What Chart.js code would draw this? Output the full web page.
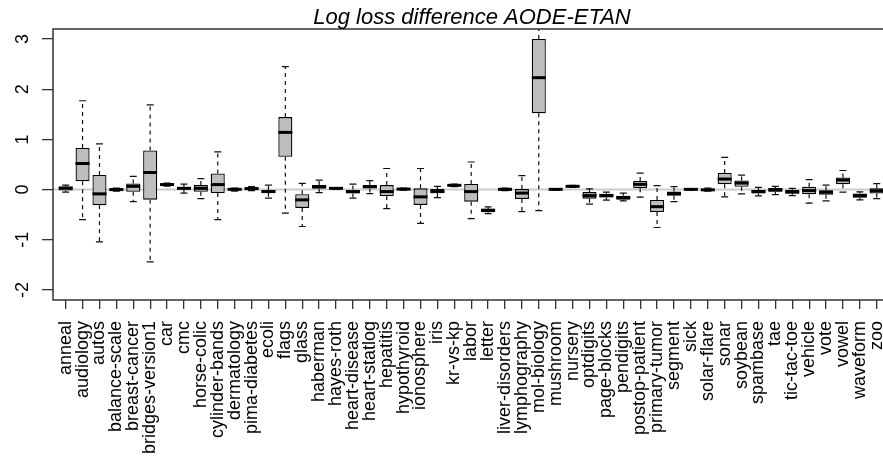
<!DOCTYPE html>
<html>
<head>
<meta charset="utf-8">
<script src="https://cdn.jsdelivr.net/npm/chart.js@4.4.1/dist/chart.umd.min.js"></script>
<style>
  html, body { margin: 0; padding: 0; background: #fff; overflow: hidden; }
  #wrap { width: 883px; height: 460px; position: relative; }
</style>
</head>
<body>
<div id="wrap"><canvas id="myChart"></canvas></div>
<script>
// data sets (x axis)
const categories = ['anneal', 'audiology', 'autos', 'balance-scale', 'breast-cancer', 'bridges-version1',
  'car', 'cmc', 'horse-colic', 'cylinder-bands', 'dermatology', 'pima-diabetes', 'ecoli', 'flags',
  'glass', 'haberman', 'hayes-roth', 'heart-disease', 'heart-statlog', 'hepatitis', 'hypothyroid',
  'ionosphere', 'iris', 'kr-vs-kp', 'labor', 'letter', 'liver-disorders', 'lymphography',
  'mol-biology', 'mushroom', 'nursery', 'optdigits', 'page-blocks', 'pendigits', 'postop-patient',
  'primary-tumor', 'segment', 'sick', 'solar-flare', 'sonar', 'soybean', 'spambase', 'tae',
  'tic-tac-toe', 'vehicle', 'vote', 'vowel', 'waveform', 'zoo'];

// box statistics
const whiskerLow = [-0.05, -0.60, -1.04, -0.03, -0.24, -1.44, 0.07, -0.07, -0.18, -0.60, -0.03, -0.02, -0.17, -0.47,
  -0.735, -0.06, 0.01, -0.17, -0.08, -0.38, -0.01, -0.675, -0.16, 0.06, -0.58, -0.48, -0.02, -0.44,
  -0.42, -0.01, 0.045, -0.29, -0.21, -0.225, -0.15, -0.755, -0.24, -0.01, -0.03, -0.145, -0.085, -0.125,
  -0.10, -0.12, -0.27, -0.225, -0.05, -0.205, -0.18];
const q1 = [-0.02, 0.165, -0.31, -0.02, -0.045, -0.20, 0.08, 0.0, -0.045, -0.07, -0.015, 0.0, -0.065, 0.655,
  -0.365, 0.015, 0.015, -0.08, 0.02, -0.13, 0.0, -0.305, -0.07, 0.07, -0.24, -0.45, -0.01, -0.185,
  1.52, -0.005, 0.05, -0.18, -0.16, -0.20, 0.025, -0.445, -0.125, -0.005, -0.02, 0.105, 0.055, -0.08,
  -0.045, -0.08, -0.093, -0.105, 0.105, -0.165, -0.08];
const medians = [0.03, 0.52, -0.085, 0.0, 0.065, 0.34, 0.10, 0.025, 0.025, 0.10, 0.005, 0.02, -0.04, 1.14,
  -0.205, 0.06, 0.025, -0.04, 0.06, -0.04, 0.01, -0.145, -0.04, 0.085, -0.04, -0.41, 0.005, -0.07,
  2.23, 0.005, 0.065, -0.12, -0.12, -0.16, 0.105, -0.34, -0.08, 0.005, -0.005, 0.21, 0.13, -0.04,
  -0.007, -0.05, -0.02, -0.053, 0.19, -0.12, -0.025];
const q3 = [0.06, 0.83, 0.29, 0.02, 0.12, 0.78, 0.12, 0.05, 0.09, 0.32, 0.02, 0.04, -0.01, 1.445,
  -0.093, 0.09, 0.035, 0.0, 0.09, 0.09, 0.02, 0.025, 0.01, 0.10, 0.11, -0.385, 0.02, 0.01,
  3.0, 0.015, 0.08, -0.05, -0.085, -0.125, 0.17, -0.205, -0.04, 0.015, 0.015, 0.33, 0.18, -0.01,
  0.03, -0.01, 0.055, -0.013, 0.24, -0.08, 0.025];
const whiskerHigh = [0.09, 1.77, 0.91, 0.03, 0.265, 1.69, 0.13, 0.11, 0.22, 0.75, 0.03, 0.06, 0.09, 2.45,
  0.125, 0.19, 0.04, 0.11, 0.18, 0.42, 0.03, 0.42, 0.065, 0.11, 0.55, -0.345, 0.03, 0.28,
  3.6, 0.02, 0.085, 0.015, -0.05, -0.07, 0.33, 0.08, 0.06, 0.02, 0.03, 0.64, 0.29, 0.045,
  0.065, 0.023, 0.2, 0.09, 0.38, -0.045, 0.12];

const yTicks = [-2, -1, 0, 1, 2, 3];

const FONT = "'Liberation Sans', Arial, Helvetica, sans-serif";

// whiskers, medians, zero line, frame, title and y labels
const boxplotExtras = {
  id: 'boxplotExtras',
  beforeDatasetsDraw(chart) {
    const ctx = chart.ctx;
    const area = chart.chartArea;
    const x = chart.scales.x;
    const y = chart.scales.y;
    const bars = chart.getDatasetMeta(0).data;

    ctx.save();
    ctx.beginPath();
    ctx.rect(area.left, area.top, area.right - area.left, area.bottom - area.top);
    ctx.clip();

    // grey line at zero
    ctx.strokeStyle = '#cccccc';
    ctx.lineWidth = 2;
    ctx.beginPath();
    ctx.moveTo(area.left, y.getPixelForValue(0));
    ctx.lineTo(area.right, y.getPixelForValue(0));
    ctx.stroke();

    // whiskers
    ctx.strokeStyle = '#111';
    ctx.lineWidth = 1.2;
    categories.forEach((c, i) => {
      const px = x.getPixelForValue(i);
      const half = bars[i] ? bars[i].width / 4 : 3.5;
      ctx.setLineDash([4, 4]);
      ctx.beginPath();
      ctx.moveTo(px, y.getPixelForValue(q3[i]));
      ctx.lineTo(px, y.getPixelForValue(whiskerHigh[i]));
      ctx.moveTo(px, y.getPixelForValue(q1[i]));
      ctx.lineTo(px, y.getPixelForValue(whiskerLow[i]));
      ctx.stroke();
      ctx.setLineDash([]);
      ctx.beginPath();
      ctx.moveTo(px - half, y.getPixelForValue(whiskerHigh[i]));
      ctx.lineTo(px + half, y.getPixelForValue(whiskerHigh[i]));
      ctx.moveTo(px - half, y.getPixelForValue(whiskerLow[i]));
      ctx.lineTo(px + half, y.getPixelForValue(whiskerLow[i]));
      ctx.stroke();
    });
    ctx.restore();
  },
  afterDatasetsDraw(chart) {
    const ctx = chart.ctx;
    const area = chart.chartArea;
    const x = chart.scales.x;
    const y = chart.scales.y;
    const bars = chart.getDatasetMeta(0).data;

    ctx.save();
    ctx.beginPath();
    ctx.rect(area.left, area.top, area.right - area.left, area.bottom - area.top);
    ctx.clip();
    ctx.strokeStyle = '#000';
    ctx.lineWidth = 3;
    categories.forEach((c, i) => {
      const px = x.getPixelForValue(i);
      const half = bars[i].width / 2;
      const py = y.getPixelForValue(medians[i]);
      ctx.beginPath();
      ctx.moveTo(px - half, py);
      ctx.lineTo(px + half, py);
      ctx.stroke();
    });
    ctx.restore();
  },
  afterDraw(chart) {
    const ctx = chart.ctx;
    const area = chart.chartArea;
    const y = chart.scales.y;

    // box around the plot (right side is off the picture)
    ctx.save();
    ctx.strokeStyle = '#333';
    ctx.lineWidth = 1.5;
    ctx.beginPath();
    ctx.moveTo(area.right + 5, area.top);
    ctx.lineTo(area.left, area.top);
    ctx.lineTo(area.left, area.bottom);
    ctx.lineTo(area.right + 5, area.bottom);
    ctx.stroke();

    // y tick labels, turned like in R
    ctx.fillStyle = '#000';
    ctx.font = '18px ' + FONT;
    ctx.textAlign = 'center';
    ctx.textBaseline = 'alphabetic';
    yTicks.forEach(t => {
      ctx.save();
      ctx.translate(area.left - 25.5, y.getPixelForValue(t));
      ctx.rotate(-Math.PI / 2);
      ctx.fillText(String(t), 0, 0);
      ctx.restore();
    });

    // title
    ctx.font = 'italic 22px ' + FONT;
    ctx.textAlign = 'center';
    ctx.fillText('Log loss difference AODE-ETAN', (area.left + area.right) / 2 + 4, 24);
    ctx.restore();
  }
};

function drawChart() {
  const ctx = document.getElementById('myChart').getContext('2d');

  new Chart(ctx, {
    type: 'bar',
    data: {
      datasets: [{
        label: 'Log loss difference',
        data: categories.map((c, i) => ({ x: i, y: [q1[i], q3[i]] })),
        backgroundColor: '#bebebe',
        borderColor: '#000',
        borderWidth: 1.3,
        borderSkipped: false,
        categoryPercentage: 1,
        barPercentage: 0.83
      }]
    },
    options: {
      responsive: true,
      maintainAspectRatio: false,
      animation: false,
      layout: { padding: { top: 29, right: 0, left: 0, bottom: 0 } },
      plugins: {
        legend: { display: false },
        tooltip: { enabled: false },
        title: { display: false }
      },
      scales: {
        x: {
          type: 'linear',
          min: -0.75,
          max: 48.37,
          offset: false,
          afterBuildTicks: s => { s.ticks = categories.map((c, i) => ({ value: i })); },
          afterFit: s => { s.height = 160; s.paddingLeft = 0; s.paddingRight = 0; },
          grid: { display: true, drawOnChartArea: false, drawTicks: true, tickLength: 9, color: '#333', lineWidth: 1.3, offset: false },
          border: { display: false },
          ticks: {
            autoSkip: false,
            minRotation: 90,
            maxRotation: 90,
            padding: 12,
            color: '#000',
            font: { family: FONT, size: 18 },
            callback: v => categories[v]
          }
        },
        y: {
          min: -2.2,
          max: 3.2,
          afterBuildTicks: s => { s.ticks = yTicks.map(v => ({ value: v })); },
          afterFit: s => { s.width = 53; s.paddingTop = 0; s.paddingBottom = 0; },
          grid: { display: true, drawOnChartArea: false, drawTicks: true, tickLength: 11, color: '#333', lineWidth: 1.3 },
          border: { display: false },
          ticks: { display: false }
        }
      }
    },
    plugins: [boxplotExtras]
  });
}

drawChart();
</script>
</body>
</html>
